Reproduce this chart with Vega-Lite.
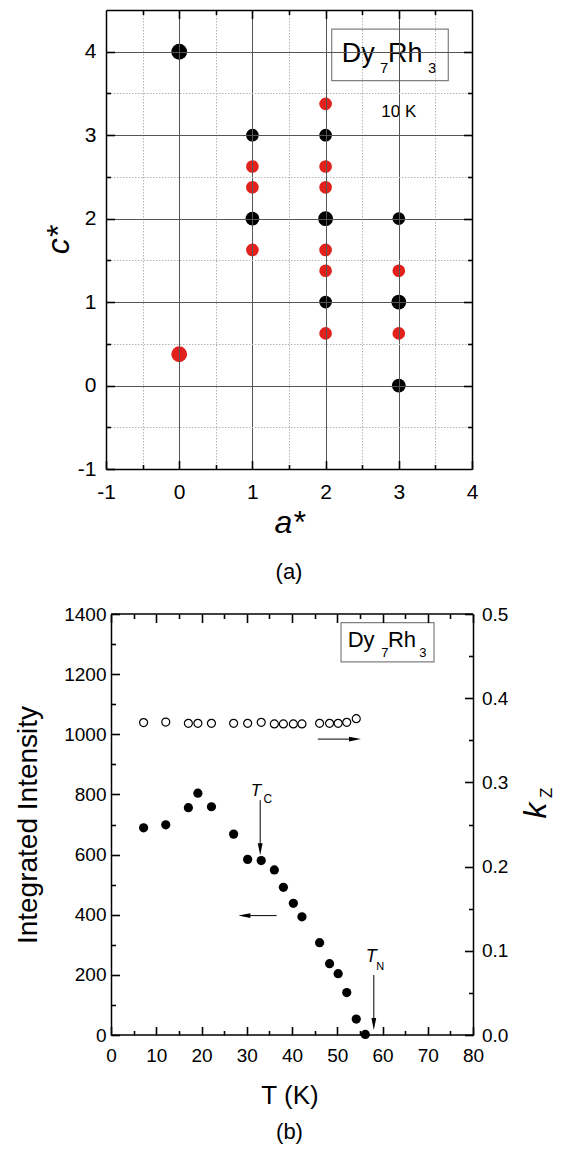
{
  "$schema": "https://vega.github.io/schema/vega-lite/v6.json",
  "padding": {"left": 14, "top": 9, "right": 2, "bottom": 2},
  "bounds": "flush",
  "spacing": 145,
  "config": {
    "font": "Liberation Sans",
    "view": {"stroke": null},
    "axis": {"domainColor": "#000", "domainWidth": 1.5, "tickColor": "#000", "tickWidth": 1.6, "tickOpacity": 1, "labelColor": "#000", "titleColor": "#000", "titleFontWeight": "normal", "labelFlush": false, "labelOverlap": false, "labelFont": "Liberation Sans", "titleFont": "Liberation Sans"},
    "text": {"font": "Liberation Sans", "color": "#000"},
    "title": {"font": "Liberation Sans", "fontWeight": "normal", "color": "#000"}
  },
  "datasets": {
    "spots": [
      {"a": 0, "c": 4, "kind": "nuclear", "strength": "XL"},
      {"a": 1, "c": 3, "kind": "nuclear", "strength": "S"},
      {"a": 2, "c": 3, "kind": "nuclear", "strength": "S"},
      {"a": 1, "c": 2, "kind": "nuclear", "strength": "M"},
      {"a": 2, "c": 2, "kind": "nuclear", "strength": "L"},
      {"a": 3, "c": 2, "kind": "nuclear", "strength": "S"},
      {"a": 2, "c": 1, "kind": "nuclear", "strength": "S"},
      {"a": 3, "c": 1, "kind": "nuclear", "strength": "L"},
      {"a": 3, "c": 0, "kind": "nuclear", "strength": "M"},
      {"a": 0, "c": 0.375, "kind": "magnetic", "strength": "XL"},
      {"a": 1, "c": 2.625, "kind": "magnetic", "strength": "S"},
      {"a": 1, "c": 2.375, "kind": "magnetic", "strength": "S"},
      {"a": 1, "c": 1.625, "kind": "magnetic", "strength": "S"},
      {"a": 2, "c": 3.375, "kind": "magnetic", "strength": "S"},
      {"a": 2, "c": 2.625, "kind": "magnetic", "strength": "S"},
      {"a": 2, "c": 2.375, "kind": "magnetic", "strength": "S"},
      {"a": 2, "c": 1.625, "kind": "magnetic", "strength": "S"},
      {"a": 2, "c": 1.375, "kind": "magnetic", "strength": "S"},
      {"a": 2, "c": 0.625, "kind": "magnetic", "strength": "S"},
      {"a": 3, "c": 1.375, "kind": "magnetic", "strength": "S"},
      {"a": 3, "c": 0.625, "kind": "magnetic", "strength": "S"}
    ],
    "intensity": [
      {"T": 7.2, "I": 689}, {"T": 12.1, "I": 699}, {"T": 17.1, "I": 756}, {"T": 19.2, "I": 804},
      {"T": 22.2, "I": 759}, {"T": 27.1, "I": 668}, {"T": 30.2, "I": 584}, {"T": 33.2, "I": 580},
      {"T": 36.1, "I": 549}, {"T": 38.1, "I": 491}, {"T": 40.3, "I": 438}, {"T": 42.2, "I": 393},
      {"T": 46.1, "I": 307}, {"T": 48.3, "I": 237}, {"T": 50.2, "I": 204}, {"T": 52.1, "I": 141},
      {"T": 54.2, "I": 53}, {"T": 56.2, "I": 2}
    ],
    "kz": [
      {"T": 7.2, "kz": 0.371}, {"T": 12.1, "kz": 0.3717}, {"T": 17.1, "kz": 0.3702}, {"T": 19.2, "kz": 0.3702},
      {"T": 22.2, "kz": 0.3702}, {"T": 27.1, "kz": 0.3702}, {"T": 30.2, "kz": 0.3702}, {"T": 33.2, "kz": 0.3713},
      {"T": 36.1, "kz": 0.3694}, {"T": 38.1, "kz": 0.3694}, {"T": 40.3, "kz": 0.3694}, {"T": 42.2, "kz": 0.3694},
      {"T": 46.1, "kz": 0.3702}, {"T": 48.3, "kz": 0.3702}, {"T": 50.2, "kz": 0.3702}, {"T": 52.1, "kz": 0.3713},
      {"T": 54.2, "kz": 0.3757}
    ]
  },
  "vconcat": [
    {
      "width": 366,
      "height": 459,
      "title": {"text": "(a)", "orient": "bottom", "fontSize": 22, "offset": 24, "anchor": "middle"},
      "layer": [
        {
          "data": {"name": "spots"},
          "mark": {"type": "circle", "opacity": 1},
          "encoding": {
            "x": {"field": "a", "type": "quantitative", "scale": {"domain": [-1, 4], "nice": false, "zero": false},
              "axis": {"orient": "bottom", "values": [-1, 0, 1, 2, 3, 4], "labelExpr": "toString(datum.value)",
                "labelFontSize": 21, "labelPadding": 20.5, "ticks": true, "tickSize": -8.5, "domain": true,
                "grid": true, "gridColor": "#555555",
                "title": "a*", "titleFontSize": 32, "titleFontStyle": "italic", "titlePadding": 5, "zindex": 1}},
            "y": {"field": "c", "type": "quantitative", "scale": {"domain": [-1, 4.5], "nice": false, "zero": false},
              "axis": {"orient": "left", "values": [-1, 0, 1, 2, 3, 4], "labelExpr": "toString(datum.value)",
                "labelFontSize": 21, "labelPadding": 18.5, "ticks": true, "tickSize": -8.5, "domain": true,
                "grid": true, "gridColor": "#555555",
                "title": "c*", "titleFontSize": 32, "titleFontStyle": "italic", "titlePadding": 2, "zindex": 1}},
            "color": {"field": "kind", "type": "nominal", "scale": {"domain": ["nuclear", "magnetic"], "range": ["#000000", "#e3211c"]}, "legend": null},
            "size": {"field": "strength", "type": "ordinal", "scale": {"domain": ["XL", "L", "M", "S"], "range": [250, 160, 95, 60]}, "legend": null}
          }
        },
        {
          "data": {"values": [{}]},
          "mark": {"type": "rect", "fill": "#ffffff", "stroke": "#808080", "strokeWidth": 1.2},
          "encoding": {
            "x": {"datum": 2.083, "type": "quantitative",
              "axis": {"orient": "top", "values": [-0.5, 0.5, 1.5, 2.5, 3.5], "labels": false, "ticks": true, "tickSize": -4.5, "domain": true,
                "grid": true, "gridColor": "#b4b4b4", "gridDash": [1.5, 1.5], "title": null, "zindex": 1}},
            "x2": {"datum": 3.676},
            "y": {"datum": 4.272, "type": "quantitative",
              "axis": {"orient": "right", "values": [-0.5, 0.5, 1.5, 2.5, 3.5], "labels": false, "ticks": true, "tickSize": -4.5, "domain": true,
                "grid": true, "gridColor": "#b4b4b4", "gridDash": [1.5, 1.5], "title": null, "zindex": 1}},
            "y2": {"datum": 3.653}
          }
        },
        {
          "data": {"values": [{}]},
          "mark": {"type": "rect", "fill": "#ffffff", "strokeWidth": 0},
          "encoding": {
            "x": {"datum": 2.74, "type": "quantitative", "axis": null},
            "x2": {"datum": 3.26},
            "y": {"datum": 3.47, "type": "quantitative", "axis": null},
            "y2": {"datum": 3.15}
          }
        },
        {
          "data": {"values": [{}]},
          "mark": {"type": "text", "text": "10 K", "fontSize": 17, "align": "center", "baseline": "alphabetic"},
          "encoding": {
            "x": {"datum": 3.0, "type": "quantitative",
              "axis": {"orient": "bottom", "offset": -4.5, "ticks": true, "tickSize": 4.5, "tickColor": "#000000", "tickWidth": 1.6, "values": [-0.5, 0.5, 1.5, 2.5, 3.5], "labels": false, "domain": true, "domainOpacity": 0, "grid": false, "title": null, "zindex": 2}},
            "y": {"datum": 3.218, "type": "quantitative",
              "axis": {"orient": "left", "offset": -4.5, "ticks": true, "tickSize": 4.5, "tickColor": "#000000", "tickWidth": 1.6, "values": [-0.5, 0.5, 1.5, 2.5, 3.5], "labels": false, "domain": true, "domainOpacity": 0, "grid": false, "title": null, "zindex": 2}}
          }
        },
        {
          "data": {"values": [{}]},
          "mark": {"type": "text", "text": "Dy", "fontSize": 27, "align": "left", "baseline": "alphabetic"},
          "encoding": {
            "x": {"datum": 2.22, "type": "quantitative",
              "axis": {"orient": "top", "offset": -8.5, "ticks": true, "tickSize": 8.5, "tickColor": "#000000", "tickWidth": 1.6, "values": [0, 1, 2, 3], "labels": false, "domain": true, "domainOpacity": 0, "grid": false, "title": null, "zindex": 2}},
            "y": {"datum": 3.88, "type": "quantitative",
              "axis": {"orient": "right", "offset": -8.5, "ticks": true, "tickSize": 8.5, "tickColor": "#000000", "tickWidth": 1.6, "values": [0, 1, 2, 3, 4], "labels": false, "domain": true, "domainOpacity": 0, "grid": false, "title": null, "zindex": 2}}
          }
        },
        {
          "data": {"values": [{}]},
          "mark": {"type": "text", "text": "7", "fontSize": 15, "align": "left", "baseline": "alphabetic"},
          "encoding": {"x": {"datum": 2.743, "type": "quantitative", "axis": null}, "y": {"datum": 3.745, "type": "quantitative", "axis": null}}
        },
        {
          "data": {"values": [{}]},
          "mark": {"type": "text", "text": "Rh", "fontSize": 27, "align": "left", "baseline": "alphabetic"},
          "encoding": {"x": {"datum": 2.852, "type": "quantitative", "axis": null}, "y": {"datum": 3.88, "type": "quantitative", "axis": null}}
        },
        {
          "data": {"values": [{}]},
          "mark": {"type": "text", "text": "3", "fontSize": 15, "align": "left", "baseline": "alphabetic"},
          "encoding": {"x": {"datum": 3.399, "type": "quantitative", "axis": null}, "y": {"datum": 3.745, "type": "quantitative", "axis": null}}
        }
      ],
      "resolve": {"axis": {"x": "independent", "y": "independent"}}
    },
    {
      "width": 367,
      "height": 421,
      "title": {"text": "(b)", "orient": "bottom", "fontSize": 22, "offset": 13, "anchor": "middle"},
      "layer": [
        {
          "data": {"name": "intensity"},
          "mark": {"type": "circle", "opacity": 1, "color": "#000", "size": 85},
          "encoding": {
            "x": {"field": "T", "type": "quantitative", "scale": {"domain": [-1.105, 80], "nice": false, "zero": false},
              "axis": {"orient": "bottom", "values": [0, 10, 20, 30, 40, 50, 60, 70, 80], "labelExpr": "toString(datum.value)",
                "labelFontSize": 19, "labelPadding": 20, "ticks": true, "tickSize": -8.5, "domain": false, "grid": false,
                "title": "T (K)", "titleFontSize": 26, "titlePadding": 17, "zindex": 1}},
            "y": {"field": "I", "type": "quantitative", "scale": {"domain": [0, 1400], "nice": false, "zero": false},
              "axis": {"orient": "left", "offset": -5, "values": [0, 200, 400, 600, 800, 1000, 1200, 1400], "labelExpr": "toString(datum.value)",
                "labelFontSize": 19, "labelPadding": 13.5, "ticks": true, "tickSize": -8.5, "domain": true, "grid": false,
                "title": "Integrated Intensity", "titleFontSize": 28, "titlePadding": 21, "zindex": 1}}
          }
        },
        {
          "data": {"name": "kz"},
          "mark": {"type": "point", "shape": "circle", "filled": false, "opacity": 1, "color": "#000", "strokeWidth": 1.2, "size": 64},
          "encoding": {
            "x": {"field": "T", "type": "quantitative",
              "axis": {"orient": "top", "offset": -8.5, "ticks": true, "tickSize": 8.5, "tickColor": "#000000", "tickWidth": 1.6, "values": [0, 10, 20, 30, 40, 50, 60, 70, 80], "labels": false, "domain": true, "domainOpacity": 0, "grid": false, "title": null, "zindex": 2}},
            "y": {"field": "kz", "type": "quantitative", "scale": {"domain": [0, 0.5], "nice": false, "zero": false},
              "axis": {"orient": "right", "values": [0, 0.1, 0.2, 0.3, 0.4, 0.5], "format": ".1f",
                "labelFontSize": 19, "labelPadding": 17, "ticks": true, "tickSize": -8.5, "domain": true, "grid": false,
                "title": "k", "titleFontSize": 32, "titleFontStyle": "italic", "titleAngle": 270, "titleBaseline": "top", "titlePadding": 13, "titleY": 196, "zindex": 1}}
          }
        },
        {
          "data": {"values": [{}]},
          "mark": {"type": "text", "text": "Z", "fontSize": 17, "angle": 270, "align": "center", "baseline": "middle"},
          "encoding": {
            "x": {"datum": 96.4, "type": "quantitative",
              "axis": {"orient": "top", "offset": -4.5, "ticks": true, "tickSize": 4.5, "tickColor": "#000000", "tickWidth": 1.6, "values": [5, 15, 25, 35, 45, 55, 65, 75], "labels": false, "domain": true, "domainOpacity": 0, "grid": false, "title": null, "zindex": 2}},
            "y": {"datum": 0.2875, "type": "quantitative", "scale": {"domain": [0, 0.5], "nice": false, "zero": false},
              "axis": {"orient": "right", "offset": -4.5, "ticks": true, "tickSize": 4.5, "tickColor": "#000000", "tickWidth": 1.6, "values": [0.05, 0.15, 0.25, 0.35, 0.45], "labels": false, "domain": true, "domainOpacity": 0, "grid": false, "title": null, "zindex": 2}}
          }
        },
        {
          "data": {"values": [{}]},
          "mark": {"type": "rule", "strokeWidth": 1, "color": "#000"},
          "encoding": {
            "x": {"datum": 45.7, "type": "quantitative",
              "axis": {"orient": "bottom", "offset": -4.5, "ticks": true, "tickSize": 4.5, "tickColor": "#000000", "tickWidth": 1.6, "values": [5, 15, 25, 35, 45, 55, 65, 75], "labels": false, "domain": true, "domainOpacity": 0, "grid": false, "title": null, "zindex": 2}},
            "x2": {"datum": 53.5},
            "y": {"datum": 984, "type": "quantitative", "scale": {"domain": [0, 1400], "nice": false, "zero": false},
              "axis": {"orient": "left", "offset": -9.5, "ticks": true, "tickSize": 4.5, "tickColor": "#000000", "tickWidth": 1.6, "values": [100, 300, 500, 700, 900, 1100, 1300], "labels": false, "domain": true, "domainOpacity": 0, "grid": false, "title": null, "zindex": 2}}
          }
        },
        {
          "data": {"values": [{}]},
          "mark": {"type": "point", "shape": "M-1,-0.4L1,0L-1,0.4Z", "filled": true, "opacity": 1, "color": "#000", "size": 144, "strokeWidth": 0},
          "encoding": {"x": {"datum": 53.92, "type": "quantitative", "axis": null}, "y": {"datum": 984, "type": "quantitative", "scale": {"domain": [0, 1400], "nice": false, "zero": false}, "axis": null}}
        },
        {
          "data": {"values": [{}]},
          "mark": {"type": "rule", "strokeWidth": 1.5, "color": "#000"},
          "encoding": {
            "x": {"datum": 0, "type": "quantitative", "axis": null},
            "x2": {"datum": 80},
            "y": {"datum": 0, "type": "quantitative", "scale": {"domain": [0, 1400], "nice": false, "zero": false}, "axis": null}
          }
        },
        {
          "data": {"values": [{}]},
          "mark": {"type": "rule", "strokeWidth": 1.5, "color": "#000"},
          "encoding": {
            "x": {"datum": 0, "type": "quantitative", "axis": null},
            "x2": {"datum": 80},
            "y": {"datum": 1400, "type": "quantitative", "scale": {"domain": [0, 1400], "nice": false, "zero": false}, "axis": null}
          }
        },
        {
          "data": {"values": [{}]},
          "mark": {"type": "rect", "fill": "#ffffff", "stroke": "#808080", "strokeWidth": 1.2},
          "encoding": {"x": {"datum": 50.83, "type": "quantitative", "axis": null}, "x2": {"datum": 71.38}, "y": {"datum": 1371, "type": "quantitative", "scale": {"domain": [0, 1400], "nice": false, "zero": false}, "axis": null}, "y2": {"datum": 1241}}
        },
        {
          "data": {"values": [{}]},
          "mark": {"type": "text", "text": "Dy", "fontSize": 22, "align": "left", "baseline": "alphabetic"},
          "encoding": {"x": {"datum": 52.3, "type": "quantitative", "axis": null}, "y": {"datum": 1291, "type": "quantitative", "scale": {"domain": [0, 1400], "nice": false, "zero": false}, "axis": null}}
        },
        {
          "data": {"values": [{}]},
          "mark": {"type": "text", "text": "7", "fontSize": 13, "align": "left", "baseline": "alphabetic"},
          "encoding": {"x": {"datum": 59.7, "type": "quantitative", "axis": null}, "y": {"datum": 1258, "type": "quantitative", "scale": {"domain": [0, 1400], "nice": false, "zero": false}, "axis": null}}
        },
        {
          "data": {"values": [{}]},
          "mark": {"type": "text", "text": "Rh", "fontSize": 22, "align": "left", "baseline": "alphabetic"},
          "encoding": {"x": {"datum": 61.2, "type": "quantitative", "axis": null}, "y": {"datum": 1291, "type": "quantitative", "scale": {"domain": [0, 1400], "nice": false, "zero": false}, "axis": null}}
        },
        {
          "data": {"values": [{}]},
          "mark": {"type": "text", "text": "3", "fontSize": 13, "align": "left", "baseline": "alphabetic"},
          "encoding": {"x": {"datum": 68.1, "type": "quantitative", "axis": null}, "y": {"datum": 1258, "type": "quantitative", "scale": {"domain": [0, 1400], "nice": false, "zero": false}, "axis": null}}
        },
        {
          "data": {"values": [{}]},
          "mark": {"type": "rule", "strokeWidth": 1, "color": "#000"},
          "encoding": {"x": {"datum": 29.0, "type": "quantitative", "axis": null}, "x2": {"datum": 36.6}, "y": {"datum": 397, "type": "quantitative", "scale": {"domain": [0, 1400], "nice": false, "zero": false}, "axis": null}}
        },
        {
          "data": {"values": [{}]},
          "mark": {"type": "point", "shape": "M1,-0.4L-1,0L1,0.4Z", "filled": true, "opacity": 1, "color": "#000", "size": 144, "strokeWidth": 0},
          "encoding": {"x": {"datum": 29.48, "type": "quantitative", "axis": null}, "y": {"datum": 397, "type": "quantitative", "scale": {"domain": [0, 1400], "nice": false, "zero": false}, "axis": null}}
        },
        {
          "data": {"values": [{}]},
          "mark": {"type": "rule", "strokeWidth": 1, "color": "#000"},
          "encoding": {"x": {"datum": 32.97, "type": "quantitative", "axis": null}, "y": {"datum": 781, "type": "quantitative", "scale": {"domain": [0, 1400], "nice": false, "zero": false}, "axis": null}, "y2": {"datum": 630}}
        },
        {
          "data": {"values": [{}]},
          "mark": {"type": "point", "shape": "M-0.4,-1L0,1L0.4,-1Z", "filled": true, "opacity": 1, "color": "#000", "size": 144, "strokeWidth": 0},
          "encoding": {"x": {"datum": 32.97, "type": "quantitative", "axis": null}, "y": {"datum": 618, "type": "quantitative", "scale": {"domain": [0, 1400], "nice": false, "zero": false}, "axis": null}}
        },
        {
          "data": {"values": [{}]},
          "mark": {"type": "rule", "strokeWidth": 1, "color": "#000"},
          "encoding": {"x": {"datum": 58.08, "type": "quantitative", "axis": null}, "y": {"datum": 199.5, "type": "quantitative", "scale": {"domain": [0, 1400], "nice": false, "zero": false}, "axis": null}, "y2": {"datum": 45}}
        },
        {
          "data": {"values": [{}]},
          "mark": {"type": "point", "shape": "M-0.4,-1L0,1L0.4,-1Z", "filled": true, "opacity": 1, "color": "#000", "size": 144, "strokeWidth": 0},
          "encoding": {"x": {"datum": 58.08, "type": "quantitative", "axis": null}, "y": {"datum": 36.6, "type": "quantitative", "scale": {"domain": [0, 1400], "nice": false, "zero": false}, "axis": null}}
        },
        {
          "data": {"values": [{}]},
          "mark": {"type": "text", "text": "T", "fontSize": 17, "fontStyle": "italic", "align": "left", "baseline": "alphabetic"},
          "encoding": {"x": {"datum": 30.9, "type": "quantitative", "axis": null}, "y": {"datum": 794.7, "type": "quantitative", "scale": {"domain": [0, 1400], "nice": false, "zero": false}, "axis": null}}
        },
        {
          "data": {"values": [{}]},
          "mark": {"type": "text", "text": "C", "fontSize": 12, "align": "left", "baseline": "alphabetic"},
          "encoding": {"x": {"datum": 33.7, "type": "quantitative", "axis": null}, "y": {"datum": 772, "type": "quantitative", "scale": {"domain": [0, 1400], "nice": false, "zero": false}, "axis": null}}
        },
        {
          "data": {"values": [{}]},
          "mark": {"type": "text", "text": "T", "fontSize": 18, "fontStyle": "italic", "align": "left", "baseline": "alphabetic"},
          "encoding": {"x": {"datum": 56.3, "type": "quantitative", "axis": null}, "y": {"datum": 243.7, "type": "quantitative", "scale": {"domain": [0, 1400], "nice": false, "zero": false}, "axis": null}}
        },
        {
          "data": {"values": [{}]},
          "mark": {"type": "text", "text": "N", "fontSize": 11, "align": "left", "baseline": "alphabetic"},
          "encoding": {"x": {"datum": 58.6, "type": "quantitative", "axis": null}, "y": {"datum": 216, "type": "quantitative", "scale": {"domain": [0, 1400], "nice": false, "zero": false}, "axis": null}}
        }
      ],
      "resolve": {"scale": {"y": "independent"}, "axis": {"x": "independent", "y": "independent"}}
    }
  ]
}
